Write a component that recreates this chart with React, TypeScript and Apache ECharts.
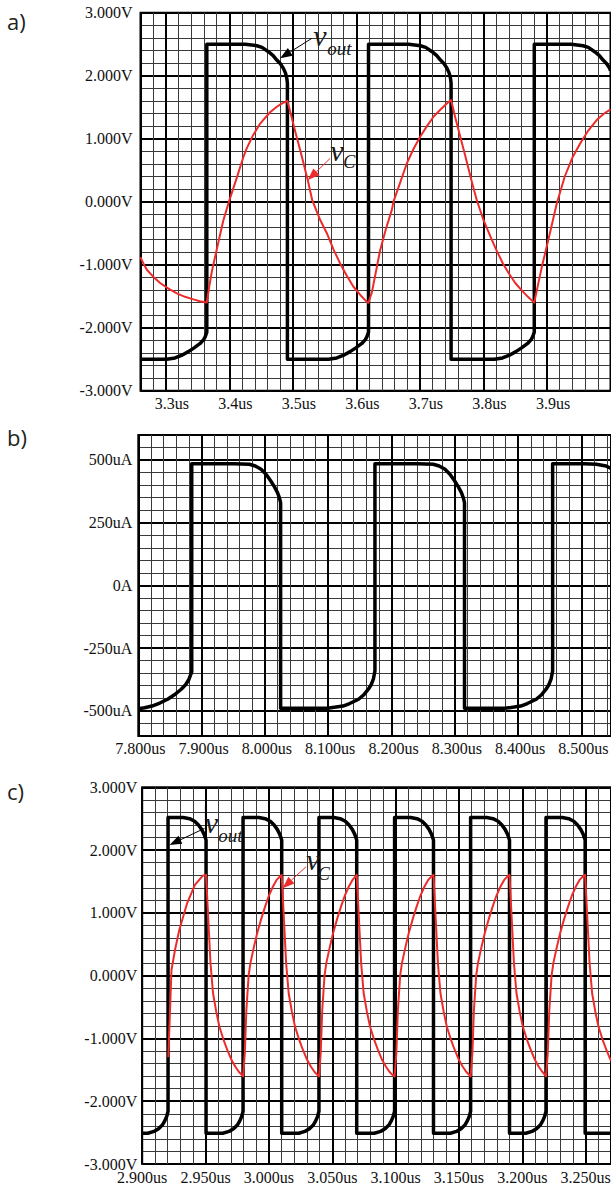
import React, { useEffect, useRef } from 'react';
import * as echarts from 'echarts';

// ---------------- Panel a) : v_out and v_C, 3.26us .. 4.0us ----------------
const aXTicks = [3.3, 3.4, 3.5, 3.6, 3.7, 3.8, 3.9];
const aYTicks = [3, 2, 1, 0, -1, -2, -3];
const aVout: [number, number][] = [
  [3.26, -2.5], [3.3014, -2.5], [3.3144, -2.48], [3.3244, -2.44], [3.3354, -2.38], [3.3444, -2.32], [3.3539, -2.25], [3.3594, -2.19], [3.3618, -2.145], [3.3644, -2.07],
  [3.3644, 2.5], [3.4247, 2.5], [3.4431, 2.476], [3.4513, 2.45], [3.4614, 2.381], [3.4688, 2.32], [3.4746, 2.249], [3.4803, 2.19], [3.485, 2.117], [3.4883, 2.04], [3.4904, 1.958], [3.4913, 1.88],
  [3.4913, -2.5], [3.556, -2.5], [3.569, -2.48], [3.579, -2.44], [3.59, -2.38], [3.599, -2.32], [3.6085, -2.25], [3.614, -2.19], [3.6164, -2.145], [3.619, -2.07],
  [3.619, 2.5], [3.6824, 2.5], [3.7008, 2.476], [3.709, 2.45], [3.7191, 2.381], [3.7265, 2.32], [3.7323, 2.249], [3.738, 2.19], [3.7427, 2.117], [3.746, 2.04], [3.7481, 1.958], [3.749, 1.88],
  [3.749, -2.5], [3.817, -2.5], [3.83, -2.48], [3.84, -2.44], [3.851, -2.38], [3.86, -2.32], [3.8695, -2.25], [3.875, -2.19], [3.8774, -2.145], [3.88, -2.07],
  [3.88, 2.5], [3.938, 2.5], [3.9568, 2.476], [3.965, 2.45], [3.9751, 2.381], [3.9825, 2.32], [3.9883, 2.249], [3.994, 2.19], [3.9987, 2.117], [4.0, 2.08],
];
const aVc: [number, number][] = [
  [3.26, -0.88], [3.265, -0.99], [3.27, -1.08], [3.28, -1.19], [3.2909, -1.29], [3.304, -1.38], [3.3172, -1.456], [3.33, -1.51], [3.3433, -1.551], [3.3535, -1.58], [3.3644, -1.6],
  [3.3665, -1.46], [3.3685, -1.33], [3.3725, -1.1], [3.3775, -0.875], [3.384, -0.58], [3.3906, -0.29], [3.4, 0.025], [3.41, 0.33], [3.422, 0.71], [3.4274, 0.85], [3.4375, 1.06], [3.4484, 1.24], [3.4535, 1.3], [3.464, 1.42], [3.4746, 1.507], [3.483, 1.56], [3.4913, 1.6],
  [3.4965, 1.4], [3.5035, 1.12], [3.5134, 0.74], [3.5234, 0.34], [3.5305, 0.02], [3.542, -0.27], [3.5534, -0.5], [3.564, -0.76], [3.5743, -0.98], [3.585, -1.18], [3.5953, -1.35], [3.606, -1.48], [3.6164, -1.59], [3.619, -1.605],
  [3.6215, -1.52], [3.6243, -1.44], [3.6305, -1.12], [3.6373, -0.77], [3.6465, -0.43], [3.6557, -0.13], [3.6583, 0.0], [3.668, 0.28], [3.6794, 0.61], [3.69, 0.84], [3.7003, 1.03], [3.711, 1.2], [3.7213, 1.348], [3.732, 1.46], [3.7423, 1.56], [3.749, 1.613],
  [3.755, 1.36], [3.7612, 1.12], [3.771, 0.74], [3.781, 0.34], [3.7896, 0.02], [3.8, -0.29], [3.81, -0.53], [3.82, -0.76], [3.8306, -0.98], [3.84, -1.14], [3.85, -1.29], [3.8613, -1.42], [3.87, -1.51], [3.8785, -1.59], [3.88, -1.6],
  [3.882, -1.5], [3.885, -1.36], [3.892, -1.03], [3.898, -0.78], [3.905, -0.48], [3.9156, -0.02], [3.928, 0.4], [3.94, 0.7], [3.952, 0.92], [3.965, 1.13], [3.9786, 1.3], [3.99, 1.4], [4.0, 1.466],
];

// ---------------- Panel b) : current, 7.8us .. 8.5467us ----------------
const bXTicks = [7.8, 7.9, 8.0, 8.1, 8.2, 8.3, 8.4, 8.5];
const bYTicks = [500, 250, 0, -250, -500];
const bI: [number, number][] = [
  [7.8, -492], [7.81, -488], [7.8216, -481], [7.834, -469], [7.8463, -454], [7.857, -436], [7.8678, -414], [7.875, -395], [7.8801, -374], [7.8844, -345],
  [7.8844, 485], [7.9508, 485], [7.9755, 483], [7.9848, 476], [7.994, 463], [8.0018, 443], [8.0093, 416], [8.0153, 392], [8.0199, 370], [8.0228, 350], [8.0248, 330],
  [8.0248, -490], [8.0988, -490], [8.1234, -481], [8.1338, -471], [8.1479, -454], [8.1558, -437], [8.1634, -414], [8.1678, -396], [8.1713, -374], [8.1738, -341],
  [8.1738, 485], [8.2413, 485], [8.266, 483], [8.2753, 476], [8.2845, 463], [8.2923, 443], [8.2998, 416], [8.3058, 392], [8.3104, 370], [8.3133, 350], [8.3153, 330],
  [8.3153, -490], [8.3795, -490], [8.4041, -481], [8.4145, -471], [8.4286, -454], [8.4365, -437], [8.4441, -414], [8.4485, -396], [8.452, -374], [8.4545, -341],
  [8.4545, 485], [8.505, 485], [8.5235, 483], [8.5389, 476], [8.5467, 466],
];

// ---------------- Panel c) : v_out and v_C, 2.9us .. 3.27us ----------------
const cXTicks = [2.9, 2.95, 3.0, 3.05, 3.1, 3.15, 3.2, 3.25];
const cYTicks = [3, 2, 1, 0, -1, -2, -3];
const cVout: [number, number][] = [
  [2.9, -2.51], [2.9044, -2.51], [2.9094, -2.48], [2.9129, -2.44], [2.9159, -2.38], [2.9179, -2.31], [2.9194, -2.24], [2.9204, -2.16],
  [2.9204, 2.52], [2.9324, 2.52], [2.9374, 2.5], [2.9414, 2.46], [2.9444, 2.4], [2.9469, 2.33], [2.9489, 2.25], [2.9504, 2.16],
  [2.9504, -2.51], [2.9636, -2.51], [2.9686, -2.48], [2.9721, -2.44], [2.9751, -2.38], [2.9771, -2.31], [2.9786, -2.24], [2.9796, -2.16],
  [2.9796, 2.52], [2.9921, 2.52], [2.9971, 2.5], [3.0011, 2.46], [3.0041, 2.4], [3.0066, 2.33], [3.0086, 2.25], [3.0101, 2.16],
  [3.0101, -2.51], [3.0235, -2.51], [3.0285, -2.48], [3.032, -2.44], [3.035, -2.38], [3.037, -2.31], [3.0385, -2.24], [3.0395, -2.16],
  [3.0395, 2.52], [3.0513, 2.52], [3.0563, 2.5], [3.0603, 2.46], [3.0633, 2.4], [3.0658, 2.33], [3.0678, 2.25], [3.0693, 2.16],
  [3.0693, -2.51], [3.0832, -2.51], [3.0882, -2.48], [3.0917, -2.44], [3.0947, -2.38], [3.0967, -2.31], [3.0982, -2.24], [3.0992, -2.16],
  [3.0992, 2.52], [3.1119, 2.52], [3.1169, 2.5], [3.1209, 2.46], [3.1239, 2.4], [3.1264, 2.33], [3.1284, 2.25], [3.1299, 2.16],
  [3.1299, -2.51], [3.1432, -2.51], [3.1482, -2.48], [3.1517, -2.44], [3.1547, -2.38], [3.1567, -2.31], [3.1582, -2.24], [3.1592, -2.16],
  [3.1592, 2.52], [3.1719, 2.52], [3.1769, 2.5], [3.1809, 2.46], [3.1839, 2.4], [3.1864, 2.33], [3.1884, 2.25], [3.1899, 2.16],
  [3.1899, -2.51], [3.2027, -2.51], [3.2077, -2.48], [3.2112, -2.44], [3.2142, -2.38], [3.2162, -2.31], [3.2177, -2.24], [3.2187, -2.16],
  [3.2187, 2.52], [3.2316, 2.52], [3.2366, 2.5], [3.2406, 2.46], [3.2436, 2.4], [3.2461, 2.33], [3.2481, 2.25], [3.2496, 2.16],
  [3.2496, -2.51], [3.27, -2.51],
];
const cVc: [number, number][] = [
  [2.9206, -1.3], [2.9216, -0.75], [2.9231, 0.09], [2.926, 0.42], [2.9293, 0.73], [2.9354, 1.15], [2.9416, 1.445], [2.9477, 1.59], [2.9504, 1.605],
  [2.9539, 0.2], [2.9559, -0.28], [2.9584, -0.57], [2.9609, -0.81], [2.964, -1.01], [2.9671, -1.18], [2.9702, -1.33], [2.9734, -1.447], [2.9762, -1.53], [2.9786, -1.58], [2.9796, -1.606],
  [2.981, -1.23], [2.9822, -0.55], [2.984, 0.0], [2.9854, 0.2], [2.9881, 0.45], [2.9908, 0.68], [2.9939, 0.9], [2.997, 1.1], [3.0001, 1.28], [3.0032, 1.42], [3.0063, 1.53], [3.0093, 1.59], [3.0101, 1.605],
  [3.0136, 0.2], [3.0156, -0.28], [3.0181, -0.57], [3.0206, -0.81], [3.0237, -1.01], [3.0268, -1.18], [3.0299, -1.33], [3.0331, -1.447], [3.0359, -1.53], [3.0383, -1.58], [3.0395, -1.606],
  [3.0409, -1.23], [3.0421, -0.55], [3.0439, 0.0], [3.0453, 0.2], [3.048, 0.45], [3.0507, 0.68], [3.0538, 0.9], [3.0569, 1.1], [3.06, 1.28], [3.0631, 1.42], [3.0662, 1.53], [3.0693, 1.605],
  [3.0728, 0.2], [3.0748, -0.28], [3.0773, -0.57], [3.0798, -0.81], [3.0829, -1.01], [3.086, -1.18], [3.0891, -1.33], [3.0923, -1.447], [3.0951, -1.53], [3.0975, -1.58], [3.0992, -1.606],
  [3.1006, -1.23], [3.1018, -0.55], [3.1036, 0.0], [3.105, 0.2], [3.1077, 0.45], [3.1104, 0.68], [3.1135, 0.9], [3.1166, 1.1], [3.1197, 1.28], [3.1228, 1.42], [3.1259, 1.53], [3.1289, 1.59], [3.1299, 1.605],
  [3.1334, 0.2], [3.1354, -0.28], [3.1379, -0.57], [3.1404, -0.81], [3.1435, -1.01], [3.1466, -1.18], [3.1497, -1.33], [3.1529, -1.447], [3.1557, -1.53], [3.1581, -1.58], [3.1592, -1.606],
  [3.1606, -1.23], [3.1618, -0.55], [3.1636, 0.0], [3.165, 0.2], [3.1677, 0.45], [3.1704, 0.68], [3.1735, 0.9], [3.1766, 1.1], [3.1797, 1.28], [3.1828, 1.42], [3.1859, 1.53], [3.1889, 1.59], [3.1899, 1.605],
  [3.1934, 0.2], [3.1954, -0.28], [3.1979, -0.57], [3.2004, -0.81], [3.2035, -1.01], [3.2066, -1.18], [3.2097, -1.33], [3.2129, -1.447], [3.2157, -1.53], [3.2178, -1.58], [3.2187, -1.606],
  [3.2201, -1.23], [3.2213, -0.55], [3.2231, 0.0], [3.2245, 0.2], [3.2272, 0.45], [3.2299, 0.68], [3.233, 0.9], [3.2361, 1.1], [3.2392, 1.28], [3.2423, 1.42], [3.2454, 1.53], [3.2484, 1.59], [3.2496, 1.605],
  [3.2531, 0.2], [3.2551, -0.28], [3.2576, -0.57], [3.2601, -0.81], [3.2632, -1.01], [3.2663, -1.18], [3.2694, -1.33], [3.27, -1.36],
];

// annotation anchors (data coordinates): arrow tip and arrow tail
const annotations = [
  { panel: 0, tip: [3.4798, 2.276], tail: [3.5298, 2.593], color: '#000', main: 'v', sub: 'out', vd: [1.5, 7], sd: [15.5, 16.5] },
  { panel: 0, tip: [3.5235, 0.343], tail: [3.5586, 0.688], color: '#ee2b2b', main: 'v', sub: 'C', vd: [0, 2], sd: [13, 10] },
  { panel: 2, tip: [2.9216, 2.082], tail: [2.9493, 2.347], color: '#000', main: 'v', sub: 'out', vd: [0, 4], sd: [13.6, 13.5] },
  { panel: 2, tip: [3.0108, 1.393], tail: [3.0294, 1.736], color: '#ee2b2b', main: 'v', sub: 'C', vd: [0, 3.5], sd: [11.6, 13.3] },
];
const cStroke: [number, number][] = [[2.9499, 2.72], [2.9499, 2.48]];

const SERIF = 'Liberation Serif';
const RED = '#ee2b2b';

const panels = [
  {
    grid: { left: 140.5, top: 12.7, width: 470, height: 378 },
    x: { min: 3.26, max: 4.0, major: 0.1, minor: 0.02, ticks: aXTicks, fmt: (v: number) => v.toFixed(1) + 'us', pad: 12 },
    y: { min: -3, max: 3, major: 1, minor: 0.2, ticks: aYTicks, fmt: (v: number) => v.toFixed(3) + 'V', margin: 8 },
    series: [{ data: aVout, color: '#000', width: 3.5 }, { data: aVc, color: RED, width: 2 }],
    letter: 'a)', letterY: 21,
  },
  {
    grid: { left: 138.3, top: 434.9, width: 472.7, height: 301 },
    x: { min: 7.8, max: 8.5467, major: 0.1, minor: 0.02, ticks: bXTicks, fmt: (v: number) => v.toFixed(3) + 'us', pad: 4 },
    y: { min: -600, max: 600, major: 250, minor: 50, ticks: bYTicks, fmt: (v: number) => (Math.abs(v) < 1e-9 ? '0A' : Math.round(v) + 'uA'), margin: 6 },
    series: [{ data: bI, color: '#000', width: 3.5 }],
    letter: 'b)', letterY: 437,
  },
  {
    grid: { left: 142.2, top: 787.3, width: 468.8, height: 376.7 },
    x: { min: 2.9, max: 3.27, major: 0.05, minor: 0.01, ticks: cXTicks, fmt: (v: number) => v.toFixed(3) + 'us', pad: 0 },
    y: { min: -3, max: 3, major: 1, minor: 0.2, ticks: cYTicks, fmt: (v: number) => v.toFixed(3) + 'V', margin: 5 },
    series: [{ data: cVout, color: '#000', width: 3.5 }, { data: cVc, color: RED, width: 2 }],
    letter: 'c)', letterY: 791,
  },
];

const isTick = (ticks: number[], v: number) => ticks.some((t) => Math.abs(t - v) < 1e-6);

function buildOption() {
  const grid: any[] = [];
  const xAxis: any[] = [];
  const yAxis: any[] = [];
  const series: any[] = [];
  panels.forEach((p, gi) => {
    grid.push({
      ...p.grid, show: true, borderColor: '#000', borderWidth: 2, backgroundColor: 'transparent',
      containLabel: false, outerBoundsMode: 'none',
    });
    const hidden = { axisLine: { show: false }, axisTick: { show: false } };
    const labelFont = { fontFamily: SERIF, fontSize: 16, color: '#111' };
    xAxis.push({
      type: 'value', gridIndex: gi, min: p.x.min, max: p.x.max, interval: p.x.minor, position: 'bottom', ...hidden,
      axisLabel: { show: false }, splitLine: { show: true, lineStyle: { color: '#3a3a3a', width: 1 } },
    });
    xAxis.push({
      type: 'value', gridIndex: gi, min: p.x.min, max: p.x.max, minInterval: p.x.major, maxInterval: p.x.major,
      splitNumber: Math.round((p.x.max - p.x.min) / p.x.major), position: 'bottom', ...hidden,
      axisLabel: {
        show: true, showMinLabel: true, showMaxLabel: true, margin: 5, padding: [0, 0, 0, p.x.pad], ...labelFont,
        formatter: (v: number) => (isTick(p.x.ticks, v) ? p.x.fmt(v) : ''),
      },
      splitLine: { show: true, lineStyle: { color: '#000', width: 2 } },
    });
    yAxis.push({
      type: 'value', gridIndex: gi, min: p.y.min, max: p.y.max, interval: p.y.minor, position: 'left', ...hidden,
      axisLabel: { show: false }, splitLine: { show: true, lineStyle: { color: '#3a3a3a', width: 1 } },
    });
    yAxis.push({
      type: 'value', gridIndex: gi, min: p.y.min, max: p.y.max, minInterval: p.y.major, maxInterval: p.y.major,
      splitNumber: Math.round((p.y.max - p.y.min) / p.y.major), position: 'left', ...hidden,
      axisLabel: {
        show: true, showMinLabel: true, showMaxLabel: true, margin: p.y.margin, ...labelFont,
        formatter: (v: number) => (isTick(p.y.ticks, v) ? p.y.fmt(v) : ''),
      },
      splitLine: { show: true, lineStyle: { color: '#000', width: 2 } },
    });
    p.series.forEach((s, si) => {
      series.push({
        type: 'line', xAxisIndex: gi * 2 + 1, yAxisIndex: gi * 2 + 1, data: s.data,
        symbol: 'none', showSymbol: false, silent: true, z: 3 + si,
        lineStyle: { color: s.color, width: s.width, join: 'round' }, itemStyle: { color: s.color },
        emphasis: { disabled: true },
      });
    });
  });
  return { animation: false, textStyle: { fontFamily: SERIF }, grid, xAxis, yAxis, series };
}

function buildGraphics(chart: any) {
  const els: any[] = [];
  panels.forEach((p) => {
    els.push({
      type: 'text', x: 7, y: p.letterY, z: 100,
      style: { text: p.letter, font: '22px "Open Sans", "Noto Sans", sans-serif', fill: '#231f20', textAlign: 'left', textVerticalAlign: 'middle' },
    });
  });
  annotations.forEach((a) => {
    const finder = { xAxisIndex: a.panel * 2 + 1, yAxisIndex: a.panel * 2 + 1 };
    const P = chart.convertToPixel(finder, a.tip);
    const T = chart.convertToPixel(finder, a.tail);
    const dx = P[0] - T[0], dy = P[1] - T[1];
    const len = Math.sqrt(dx * dx + dy * dy);
    const ux = dx / len, uy = dy / len;
    const L = 12, w = 9;
    const B = [P[0] - ux * L, P[1] - uy * L];
    const nx = -uy, ny = ux;
    els.push({ type: 'line', z: 100, shape: { x1: T[0], y1: T[1], x2: B[0], y2: B[1] }, style: { stroke: a.color, lineWidth: 1 } });
    els.push({
      type: 'polygon', z: 100,
      shape: { points: [[P[0], P[1]], [B[0] + nx * w / 2, B[1] + ny * w / 2], [B[0] - nx * w / 2, B[1] - ny * w / 2]] },
      style: { fill: a.color },
    });
    const vfs = 30, sfs = a.sub === 'C' ? 18 : 19;
    els.push({
      type: 'text', z: 100, x: T[0] + a.vd[0], y: T[1] + a.vd[1] - 0.34 * vfs,
      style: { text: a.main, font: `italic ${vfs}px "Liberation Serif"`, fill: '#1a1a1a', textAlign: 'left', textVerticalAlign: 'middle' },
    });
    els.push({
      type: 'text', z: 100, x: T[0] + a.sd[0], y: T[1] + a.sd[1] - 0.34 * sfs,
      style: { text: a.sub, font: `italic ${sfs}px "Liberation Serif"`, fill: '#1a1a1a', textAlign: 'left', textVerticalAlign: 'middle' },
    });
  });
  const f = { xAxisIndex: 5, yAxisIndex: 5 };
  const s0 = chart.convertToPixel(f, cStroke[0]);
  const s1 = chart.convertToPixel(f, cStroke[1]);
  els.push({ type: 'line', z: 100, shape: { x1: s0[0], y1: s0[1], x2: s1[0], y2: s1[1] }, style: { stroke: '#000', lineWidth: 1 } });
  return els;
}

export default function App() {
  const ref = useRef<HTMLDivElement>(null);
  useEffect(() => {
    document.body.style.margin = '0';
    const chart = echarts.init(ref.current as HTMLDivElement, null, { renderer: 'svg' });
    chart.setOption(buildOption());
    chart.setOption({ graphic: { elements: buildGraphics(chart) } });
    return () => chart.dispose();
  }, []);
  return <div ref={ref} style={{ width: 611, height: 1185 }} />;
}
